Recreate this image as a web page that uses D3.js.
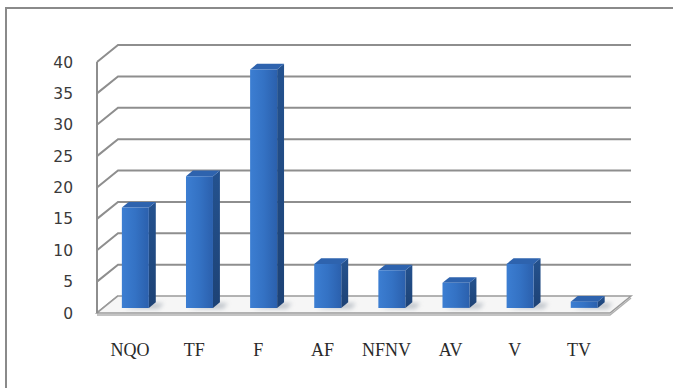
<!DOCTYPE html>
<html>
<head>
<meta charset="utf-8">
<script src="https://cdn.jsdelivr.net/npm/d3@7"></script>
<style>
  html, body { margin: 0; padding: 0; background: #fff; }
  svg { display: block; }
  .cat { font-family: "Liberation Serif", "Times New Roman", serif; }
  .tick { font-family: "DejaVu Sans", Verdana, sans-serif; }
</style>
</head>
<body>
<svg id="chart" width="673" height="388"></svg>
<script>
// Counts per category
const categories = ["NQO", "TF", "F", "AF", "NFNV", "AV", "V", "TV"];
const values = [16, 21, 38, 7, 6, 4, 7, 1];
const yTicks = [0, 5, 10, 15, 20, 25, 30, 35, 40];

const svg = d3.select("#chart");
const W = 673, H = 388;

// Oblique 3D layout: front edge of the floor and the depth offset
const frontLeft = 97, frontRight = 610, baseY = 313;
const DX = 21, DY = 17;           // full depth offset (right, up)
const barD0 = 0.30, barD1 = 0.63; // bar depth span as fraction of the full depth

const x = d3.scaleBand().domain(categories).range([frontLeft, frontRight]).paddingInner(0).paddingOuter(0);
const y = d3.scaleLinear().domain([0, 40]).range([baseY, 62]);

// projection of (screen x at front, value, depth fraction)
const P = (px, v, d) => [px + d * DX, y(v) - d * DY];

const defs = svg.append("defs");
const gFront = defs.append("linearGradient").attr("id", "gFront").attr("x1", 0).attr("x2", 1).attr("y1", 0).attr("y2", 0);
gFront.append("stop").attr("offset", 0).attr("stop-color", "#3c7ed2");
gFront.append("stop").attr("offset", 0.5).attr("stop-color", "#3472c4");
gFront.append("stop").attr("offset", 1).attr("stop-color", "#2b60ad");
const gSide = defs.append("linearGradient").attr("id", "gSide").attr("x1", 0).attr("x2", 0).attr("y1", 0).attr("y2", 1);
gSide.append("stop").attr("offset", 0).attr("stop-color", "#24528f");
gSide.append("stop").attr("offset", 1).attr("stop-color", "#1d4275");
defs.append("filter").attr("id", "soft").attr("x", "-50%").attr("y", "-50%").attr("width", "200%").attr("height", "200%")
  .append("feGaussianBlur").attr("stdDeviation", 2.2);

// Outer frame (top and left edges)
svg.append("path").attr("d", `M6,${H} L6,8 L${W},8`).attr("fill", "none").attr("stroke", "#8a8a8a").attr("stroke-width", 2);

const grid = svg.append("g");
const line = d3.line();
const backRight = frontRight + DX;

// Floor slab
const floorPts = [P(frontLeft, 0, 0), P(frontRight, 0, 0), P(frontRight, 0, 1), P(frontLeft, 0, 1)];
svg.append("path").attr("d", line(floorPts) + "Z")
  .attr("fill", "#f6f6f6").attr("stroke", "#9a9a9a").attr("stroke-width", 1.5);
svg.append("path").attr("d", line([[frontLeft, baseY + 2], [frontRight, baseY + 2], [backRight, baseY + 2 - DY]]))
  .attr("fill", "none").attr("stroke", "#b0b0b0").attr("stroke-width", 1.5);

// Gridlines: slanted on the side wall, horizontal on the back wall
yTicks.forEach(t => {
  const a = P(frontLeft, t, 0), b = P(frontLeft, t, 1), c = [backRight, b[1]];
  grid.append("path").attr("d", line(t === 0 ? [a, b] : [a, b, c]))
    .attr("fill", "none").attr("stroke", "#8e8e8e").attr("stroke-width", 2);
});
// Side wall front edge
svg.append("line").attr("x1", frontLeft).attr("x2", frontLeft).attr("y1", y(40)).attr("y2", baseY)
  .attr("stroke", "#8e8e8e").attr("stroke-width", 2);

// Y tick labels
svg.append("g").selectAll("text").data(yTicks).join("text")
  .attr("class", "tick")
  .attr("x", 73).attr("y", d => y(d)).attr("dy", "0.36em")
  .attr("text-anchor", "end")
  .attr("font-size", 15.5)
  .attr("fill", "#3a3a3a").text(d => d);

// Bars
const bw = 27;
const bars = svg.append("g");
categories.forEach((c, i) => {
  const v = values[i];
  const cx = x(c) + x.bandwidth() / 2;
  const x0 = cx - bw / 2, x1 = cx + bw / 2;
  const f00 = P(x0, 0, barD0), f10 = P(x1, 0, barD0), f11 = P(x1, v, barD0), f01 = P(x0, v, barD0);
  const b10 = P(x1, 0, barD1), b11 = P(x1, v, barD1), b01 = P(x0, v, barD1);
  // floor shadow
  bars.append("path").attr("d", line([[f00[0] + 2, f00[1] + 1], [f10[0] + 10, f10[1] + 1], [b10[0] + 8, b10[1] + 1], [f10[0], b10[1]]]) + "Z")
    .attr("fill", "#9aa3ad").attr("opacity", 0.55).attr("filter", "url(#soft)");
  bars.append("path").attr("d", line([f10, b10, b11, f11]) + "Z").attr("fill", "url(#gSide)");
  bars.append("path").attr("d", line([f01, f11, b11, b01]) + "Z").attr("fill", "#2e63ae");
  bars.append("path").attr("d", line([f00, f10, f11, f01]) + "Z").attr("fill", "url(#gFront)");
});

// Category labels
svg.append("g").selectAll("text").data(categories).join("text")
  .attr("class", "cat")
  .attr("x", d => x(d) + x.bandwidth() / 2 + 1).attr("y", 356)
  .attr("text-anchor", "middle")
  .attr("font-size", 18)
  .attr("fill", "#2a2a2a").text(d => d);
</script>
</body>
</html>
